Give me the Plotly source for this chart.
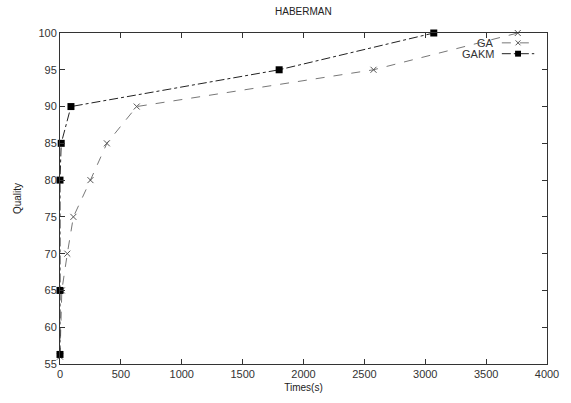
import plotly.graph_objects as go

ga_time = [0, 15, 60, 110, 250, 385, 630, 2575, 3760]
ga_quality = [56, 65, 70, 75, 80, 85, 90, 95, 100]
gakm_time = [0, 0, 0, 10, 90, 1800, 3070]
gakm_quality = [56.3, 65, 80, 85, 90, 95, 100]

x_ticks = [0, 500, 1000, 1500, 2000, 2500, 3000, 3500, 4000]
y_ticks = [55, 60, 65, 70, 75, 80, 85, 90, 95, 100]

W, H = 571, 403
L, R, T, B = 60, 15, 33, 34

fig = go.Figure()
fig.add_trace(go.Scatter(x=ga_time, y=ga_quality, mode="lines+markers", name="GA",
                         line=dict(color="#777777", width=1, dash="dash"),
                         marker=dict(symbol="x-thin", size=6, color="#555555",
                                     line=dict(width=1, color="#555555")),
                         cliponaxis=False))
fig.add_trace(go.Scatter(x=gakm_time, y=gakm_quality, mode="lines+markers", name="GAKM",
                         line=dict(color="#222222", width=1, dash="dashdot"),
                         marker=dict(symbol="square", size=7, color="black"),
                         cliponaxis=False))

axis_common = dict(showgrid=False, zeroline=False, showline=True, linecolor="#333333",
                   linewidth=1, mirror="ticks", ticks="inside", ticklen=5,
                   tickcolor="#333333", tickfont=dict(family="Liberation Sans", size=11, color="#333333"))

fig.update_xaxes(range=[0, 4000], tickvals=x_ticks, **axis_common,
                 title=dict(text="Times(s)", font=dict(family="Liberation Sans", size=10, color="#222"), standoff=4))
fig.update_yaxes(range=[55, 100], tickvals=y_ticks, **axis_common,
                 title=dict(text="Quality", font=dict(family="Liberation Sans", size=10, color="#222"), standoff=14))

def px(x):
    return (x - L) / (W - L - R)

def py(y):
    return 1 - (y - T) / (H - T - B)

txt = dict(xref="paper", yref="paper", showarrow=False, yanchor="middle")
annotations = [
    dict(text="HABERMAN", x=px(W / 2 + 22), y=py(11), xanchor="center",
         font=dict(family="Liberation Sans", size=10, color="#222"), **txt),
    dict(text="GA", x=px(504), y=py(43), xanchor="right",
         font=dict(family="Liberation Sans", size=11, color="#333"), **txt),
    dict(text="GAKM", x=px(504), y=py(54), xanchor="right",
         font=dict(family="Liberation Sans", size=11, color="#333"), **txt),
]
fig.update_layout(annotations=annotations)

shp = dict(xref="paper", yref="paper")
fig.add_shape(type="line", x0=px(510), x1=px(543), y0=py(43), y1=py(43),
              line=dict(color="#777777", width=1, dash="dash"), **shp)
fig.add_shape(type="line", x0=px(510), x1=px(543), y0=py(54), y1=py(54),
              line=dict(color="#222222", width=1, dash="dashdot"), **shp)
# legend sample markers
fig.add_shape(type="line", x0=px(524), x1=px(529), y0=py(40.5), y1=py(45.5),
              line=dict(color="#555555", width=1), **shp)
fig.add_shape(type="line", x0=px(524), x1=px(529), y0=py(45.5), y1=py(40.5),
              line=dict(color="#555555", width=1), **shp)
fig.add_shape(type="rect", x0=px(523.5), x1=px(529.5), y0=py(51), y1=py(57),
              line=dict(color="black", width=0), fillcolor="black", **shp)

fig.update_layout(width=W, height=H, margin=dict(l=L, r=R, t=T, b=B),
                  plot_bgcolor="white", paper_bgcolor="white", showlegend=False)

fig.write_html("out.html")
